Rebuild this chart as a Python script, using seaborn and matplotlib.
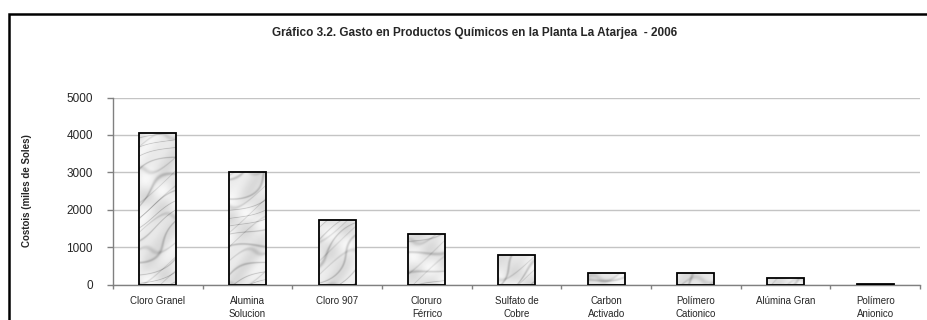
import numpy as np
import pandas as pd
import matplotlib
matplotlib.use("Agg")
import matplotlib.pyplot as plt
import seaborn as sns
from matplotlib.patches import Rectangle

# ---- data ----
categories = ["Cloro Granel", "Alumina Solucion", "Cloro 907", "Cloruro Férrico",
              "Sulfato de Cobre", "Carbon Activado", "Polímero Cationico",
              "Alúmina Gran", "Polímero Anionico"]
tick_labels = ["Cloro Granel", "Alumina\nSolucion", "Cloro 907", "Cloruro\nFérrico",
               "Sulfato de\nCobre", "Carbon\nActivado", "Polímero\nCationico",
               "Alúmina Gran", "Polímero\nAnionico"]
costs = [4060, 3020, 1720, 1340, 790, 300, 300, 170, 15]
y_ticks = [0, 1000, 2000, 3000, 4000, 5000]
title = "Gráfico 3.2. Gasto en Productos Químicos en la Planta La Atarjea  - 2006"
y_label = "Costois (miles de Soles)"

sns.set_theme(style="white")
plt.rcParams["font.family"] = ["Liberation Sans", "DejaVu Sans"]

W, H = 927, 320
fig = plt.figure(figsize=(W / 100, H / 100), dpi=100)
ax_l, ax_r, ax_b, ax_t = 113, 920, 284.5, 97.5
ax = fig.add_axes([ax_l / W, 1 - ax_b / H, (ax_r - ax_l) / W, (ax_b - ax_t) / H])

df = pd.DataFrame({"Producto": categories, "Costo": costs})
sns.barplot(data=df, x="Producto", y="Costo", ax=ax, color="#eeeeee",
            saturation=1, edgecolor="black", linewidth=1.3, width=0.41, zorder=3)


def marble(u, v):
    """Deterministic marble-like texture (styling only)."""
    w1 = np.sin(0.45 * (v - 0.5 * u) + 4.0 * np.sin(0.05 * u + 0.035 * v)
                + 3.0 * np.sin(0.09 * v - 0.03 * u + 0.5))
    w2 = np.sin(0.3 * (v - 0.6 * u) + 2.5 * np.sin(0.11 * u - 0.07 * v + 1.0))
    w3 = np.sin(0.12 * u + 0.05 * v + 2.0 * np.sin(0.07 * v))
    val = (0.91 + 0.04 * w3 + 0.02 * np.sin(0.25 * u - 0.18 * v)
           - 0.15 * np.clip(w1, 0, 1) ** 10 - 0.10 * np.clip(w2, 0, 1) ** 14)
    return np.clip(val, 0.6, 1.0)


px_x = (ax_r - ax_l) / 9.0
px_y = (ax_b - ax_t) / 5000.0
for i, p in enumerate(list(ax.patches)):
    x0, w, h = p.get_x(), p.get_width(), p.get_height()
    nw = max(2, int(round(w * px_x)))
    nh = max(2, int(round(h * px_y)))
    u = np.arange(nw)[None, :] + i * 57.0
    v = np.arange(nh)[:, None] + i * 23.0
    tex = marble(u, v)
    im = ax.imshow(tex, extent=(x0, x0 + w, 0, h), origin="lower", cmap="gray",
                   vmin=0, vmax=1, aspect="auto", interpolation="bilinear", zorder=2.5)
    im.set_clip_path(p)
    p.set_facecolor("none")

ax.set_xlim(-0.5, 8.5)
ax.set_ylim(0, 5000)
ax.set_yticks(y_ticks)
ax.set_yticklabels([str(t) for t in y_ticks])
ax.yaxis.grid(True, color="#c4c4c4", linewidth=1)
ax.set_axisbelow(True)
for s in ["top", "right"]:
    ax.spines[s].set_visible(False)
for s in ["left", "bottom"]:
    ax.spines[s].set_color("#808080")
    ax.spines[s].set_linewidth(1)

ax.set_xticks(range(len(tick_labels)))
ax.set_xticklabels(tick_labels, fontsize=7, linespacing=1.4)
ax.set_xticks(np.arange(-0.5, 9.0, 1.0), minor=True)
ax.tick_params(axis="x", which="major", bottom=True, length=0, pad=8)
ax.tick_params(axis="x", which="minor", bottom=True, length=3, width=1,
               color="#808080", direction="out")
ax.tick_params(axis="y", left=True, length=4.5, width=1, color="#808080",
               labelsize=8.5, pad=10)

ax.set_xlabel("")
ax.set_ylabel(y_label, fontsize=7, fontweight="bold")
ax.yaxis.set_label_coords((32 - ax_l) / (ax_r - ax_l), 0.5)

fig.text(475 / W, 1 - 33 / H, title, ha="center", va="center",
         fontsize=8.5, fontweight="bold")

frame = Rectangle((9 / W, -0.2), 1.2, (1 - 14 / H) + 0.2, transform=fig.transFigure,
                  fill=False, edgecolor="black", linewidth=1.8, clip_on=False)
fig.add_artist(frame)

fig.savefig("out.png", dpi=100, facecolor="white")
